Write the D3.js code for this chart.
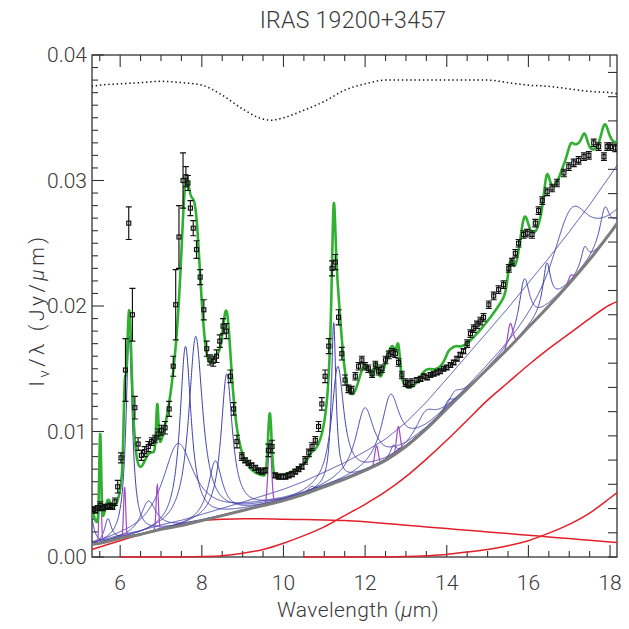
<!DOCTYPE html>
<html>
<head>
<meta charset="utf-8">
<script src="https://cdn.jsdelivr.net/npm/d3@7"></script>
<style>
  body { margin: 0; background: #fff; }
  text { font-family: Roboto, "Liberation Sans Narrow", sans-serif; font-weight: 300; fill: #3a3a3a; }
</style>
</head>
<body>
<svg id="chart" width="629" height="629"></svg>
<script>
// observed spectrum (wavelength in micron, flux in Jy/micron, 1-sigma error)
const obsLam = [5.33, 5.39, 5.45, 5.51, 5.57, 5.63, 5.69, 5.75, 5.81, 5.87, 5.94, 6.02, 6.13, 6.21, 6.30, 6.36, 6.44, 6.52, 6.60, 6.69,
  6.77, 6.85, 6.93, 7.01, 7.10, 7.20, 7.30, 7.36, 7.44, 7.54, 7.61, 7.66, 7.72, 7.79, 7.87, 7.96, 8.05, 8.12, 8.20, 8.28,
  8.36, 8.44, 8.52, 8.60, 8.70, 8.78, 8.86, 8.98, 9.06, 9.14, 9.22, 9.31, 9.39, 9.47, 9.55, 9.63, 9.72, 9.80, 9.88, 9.96,
  10.05, 10.13, 10.21, 10.29, 10.37, 10.45, 10.53, 10.62, 10.70, 10.78, 10.86, 10.94, 11.02, 11.11, 11.19, 11.27, 11.35, 11.43, 11.51, 11.59,
  11.67, 11.76, 11.84, 11.92, 12.00, 12.08, 12.17, 12.25, 12.33, 12.41, 12.50, 12.58, 12.66, 12.74, 12.82, 12.90, 12.99, 13.07, 13.15, 13.27,
  13.36, 13.44, 13.52, 13.60, 13.68, 13.76, 13.84, 13.92, 14.00, 14.09, 14.17, 14.25, 14.33, 14.41, 14.50, 14.58, 14.66, 14.74, 14.82, 14.90,
  15.03, 15.15, 15.27, 15.39, 15.52, 15.60, 15.68, 15.76, 15.88, 15.97, 16.09, 16.17, 16.25, 16.34, 16.46, 16.58, 16.70, 16.87, 16.99, 17.11,
  17.23, 17.36, 17.48, 17.60, 17.72, 17.85, 17.93, 18.01, 18.13];
const obsFlux = [0.0038, 0.0037, 0.0039, 0.0041, 0.0039, 0.0040, 0.0040, 0.0041, 0.0040, 0.0044, 0.0056, 0.0079, 0.0149, 0.0266, 0.0193, 0.0119, 0.0090, 0.0081, 0.0084, 0.0088,
  0.0092, 0.0094, 0.0098, 0.0101, 0.0103, 0.0118, 0.0152, 0.0201, 0.0255, 0.0300, 0.0303, 0.0298, 0.0278, 0.0262, 0.0245, 0.0223, 0.0197, 0.0166, 0.0157, 0.0156,
  0.0160, 0.0172, 0.0184, 0.0180, 0.0144, 0.0118, 0.0092, 0.0080, 0.0077, 0.0075, 0.0073, 0.0071, 0.0069, 0.0068, 0.0069, 0.0085, 0.0088, 0.0065, 0.0064, 0.0064,
  0.0064, 0.0065, 0.0066, 0.0068, 0.0070, 0.0072, 0.0077, 0.0083, 0.0088, 0.0093, 0.0104, 0.0122, 0.0144, 0.0168, 0.0230, 0.0235, 0.0191, 0.0162, 0.0141, 0.0134,
  0.0133, 0.0144, 0.0152, 0.0157, 0.0152, 0.0150, 0.0146, 0.0153, 0.0148, 0.0150, 0.0157, 0.0161, 0.0163, 0.0162, 0.0155, 0.0145, 0.0139, 0.0138, 0.0139, 0.0141,
  0.0142, 0.0144, 0.0143, 0.0145, 0.0146, 0.0147, 0.0148, 0.0150, 0.0151, 0.0153, 0.0155, 0.0158, 0.0161, 0.0164, 0.0170, 0.0178, 0.0182, 0.0185, 0.0188, 0.0191,
  0.0201, 0.0208, 0.0213, 0.0217, 0.0230, 0.0235, 0.0242, 0.0250, 0.0257, 0.0258, 0.0257, 0.0266, 0.0276, 0.0284, 0.0291, 0.0294, 0.0298, 0.0306, 0.0311, 0.0314,
  0.0316, 0.0319, 0.0320, 0.0330, 0.0327, 0.0319, 0.0327, 0.0327, 0.0326];
const obsErr = [0.0002, 0.0002, 0.0002, 0.0003, 0.0002, 0.0002, 0.0002, 0.0002, 0.0002, 0.0003, 0.0005, 0.0004, 0.0025, 0.0013, 0.0021, 0.0009, 0.0005, 0.0004, 0.0004, 0.0004,
  0.0003, 0.0003, 0.0004, 0.0004, 0.0005, 0.0006, 0.0008, 0.0028, 0.0025, 0.0022, 0.0008, 0.0006, 0.0006, 0.0006, 0.0007, 0.0006, 0.0008, 0.0006, 0.0004, 0.0004,
  0.0005, 0.0005, 0.0006, 0.0006, 0.0005, 0.0005, 0.0005, 0.0003, 0.0002, 0.0002, 0.0002, 0.0002, 0.0002, 0.0002, 0.0002, 0.0005, 0.0005, 0.0002, 0.0002, 0.0002,
  0.0002, 0.0002, 0.0002, 0.0002, 0.0002, 0.0002, 0.0003, 0.0003, 0.0003, 0.0003, 0.0004, 0.0005, 0.0005, 0.0006, 0.0006, 0.0006, 0.0006, 0.0005, 0.0004, 0.0003,
  0.0003, 0.0003, 0.0003, 0.0003, 0.0003, 0.0003, 0.0003, 0.0003, 0.0003, 0.0003, 0.0003, 0.0003, 0.0003, 0.0003, 0.0003, 0.0003, 0.0003, 0.0003, 0.0003, 0.0002,
  0.0002, 0.0002, 0.0002, 0.0002, 0.0002, 0.0002, 0.0002, 0.0002, 0.0002, 0.0002, 0.0002, 0.0002, 0.0002, 0.0002, 0.0003, 0.0003, 0.0003, 0.0003, 0.0003, 0.0003,
  0.0003, 0.0003, 0.0003, 0.0003, 0.0003, 0.0003, 0.0003, 0.0003, 0.0003, 0.0003, 0.0003, 0.0003, 0.0003, 0.0003, 0.0003, 0.0003, 0.0003, 0.0003, 0.0003, 0.0003,
  0.0003, 0.0003, 0.0003, 0.0003, 0.0003, 0.0003, 0.0003, 0.0003, 0.0003];

// fitted components, sampled on one wavelength list
const compLam  = [5.3, 5.5, 6.0, 6.5, 7.0, 7.5, 8.0, 8.5, 9.0, 9.5, 10.0, 10.5, 11.0, 11.5, 12.0, 12.5, 13.0, 13.5, 14.0, 14.5, 15.0, 15.5, 16.0, 16.5, 17.0, 17.5, 18.0, 18.2];
const contTotal = [0.0010, 0.0011, 0.0015, 0.0018, 0.0022, 0.0025, 0.0029, 0.0033, 0.0037, 0.0041, 0.0045, 0.0050, 0.0056, 0.0062, 0.0069, 0.0077, 0.0088, 0.0102, 0.0118, 0.0134, 0.0150, 0.0166, 0.0183, 0.0200, 0.0218, 0.0237, 0.0258, 0.0267];
const dustWarm  = [0.0006, 0.0008, 0.0013, 0.0018, 0.0022, 0.0026, 0.0029, 0.0030, 0.00305, 0.00305, 0.0030, 0.00298, 0.00295, 0.0029, 0.0028, 0.00267, 0.00253, 0.0024, 0.00227, 0.00213, 0.0020, 0.00187, 0.00173, 0.0016, 0.00147, 0.00133, 0.0012, 0.00115];
const dustCool  = [null, null, 0, 0, 0, 0, 0.00003, 0.0001, 0.0003, 0.0006, 0.0011, 0.0017, 0.0024, 0.0033, 0.0042, 0.0052, 0.0064, 0.0078, 0.0093, 0.0109, 0.0125, 0.0139, 0.0153, 0.0166, 0.0178, 0.0190, 0.0201, 0.0204];
const dustCold  = [null, null, null, null, null, null, null, null, null, null, null, 0, 0, 0, 0, 0.00001, 0.00004, 0.0001, 0.0002, 0.0004, 0.0006, 0.0009, 0.0013, 0.0019, 0.0026, 0.0035, 0.0047, 0.0052];

// PAH features (Drude): centre, fractional FWHM, peak above continuum
const pahCenter = [5.27, 5.70, 6.22, 6.69, 7.42, 7.60, 7.85, 8.33, 8.61, 10.68, 11.23, 11.33, 11.99, 12.62, 12.69, 13.48, 14.04, 14.19, 15.90, 16.45, 17.04, 17.375, 17.87, 20.0];
const pahFwhm   = [0.034, 0.035, 0.030, 0.07, 0.126, 0.044, 0.053, 0.05, 0.039, 0.02, 0.012, 0.032, 0.045, 0.042, 0.013, 0.04, 0.016, 0.025, 0.02, 0.014, 0.065, 0.012, 0.016, 0.7];
const pahPeak   = [0.0025, 0.0018, 0.0160, 0.0025, 0.0066, 0.0142, 0.0148, 0.0045, 0.0112, 0.0004, 0.0128, 0.0092, 0.0050, 0.0050, 0.0008, 0.0015, 0.0006, 0.0008, 0.0042, 0.0036, 0.0058, 0.0015, 0.0026, 0.0050];

// gas lines (Gaussian): centre, FWHM (micron), peak
const lineCenter = [5.511, 6.109, 6.909, 9.665, 12.279, 12.814, 15.555, 17.035];
const lineFwhm   = [0.055, 0.06, 0.065, 0.10, 0.10, 0.10, 0.14, 0.14];
const linePeak   = [0.0070, 0.0040, 0.0036, 0.0050, 0.0015, 0.0020, 0.0018, 0.0005];

// extinction curve drawn dotted at the top
const extLam = [5.3, 5.5, 6.0, 6.5, 7.0, 7.5, 8.0, 8.5, 9.0, 9.4, 9.7, 10.0, 10.5, 11.0, 11.5, 12.0, 12.5, 13.0, 14.0, 15.0, 15.5, 16.0, 16.5, 17.0, 17.5, 18.0, 18.2];
const extVal = [0.0375, 0.0376, 0.0377, 0.0378, 0.0379, 0.0378, 0.0376, 0.0368, 0.0357, 0.0350, 0.0348, 0.0350, 0.0356, 0.0363, 0.0372, 0.0377, 0.0380, 0.0380, 0.0380, 0.0380, 0.0378, 0.0376, 0.0375, 0.0373, 0.0371, 0.0370, 0.0369];

const xTicks = [6, 8, 10, 12, 14, 16, 18];
const yTicks = [0, 0.01, 0.02, 0.03, 0.04];

const svg = d3.select("#chart");
const margin = { top: 55, right: 12, bottom: 72, left: 92 };
const W = 629, H = 629;
const x = d3.scaleLinear().domain([5.31, 18.17]).range([margin.left, W - margin.right]);
const y = d3.scaleLinear().domain([0, 0.04]).range([H - margin.bottom, margin.top]);
const yRight = d3.scaleLinear().domain([0, 1.036]).range([H - margin.bottom, margin.top]);

svg.append("defs").append("clipPath").attr("id", "plot")
  .append("rect").attr("x", x.range()[0]).attr("y", margin.top - 1)
  .attr("width", x.range()[1] - x.range()[0]).attr("height", y.range()[0] - margin.top + 2);

// frame and ticks first, the curves go on top (as the original plot does)
const axisCol = "#333";
const [xl, xr] = x.range(), [yb, yt] = y.range();
svg.append("rect").attr("x", xl).attr("y", yt).attr("width", xr - xl).attr("height", yb - yt)
  .attr("fill", "none").attr("stroke", axisCol).attr("stroke-width", 1.3);

const tk = svg.append("g").attr("stroke", axisCol).attr("stroke-width", 1.1);
d3.range(5.5, 18.01, 0.5).forEach(v => {
  const len = Math.abs(v % 2) < 1e-6 ? 12 : 6;
  tk.append("line").attr("x1", x(v)).attr("x2", x(v)).attr("y1", yb).attr("y2", yb - len);
  tk.append("line").attr("x1", x(v)).attr("x2", x(v)).attr("y1", yt).attr("y2", yt + len);
});
d3.range(0, 41).forEach(k => {
  const v = k / 1000, len = k % 10 === 0 ? 12 : 6;
  tk.append("line").attr("x1", xl).attr("x2", xl + len).attr("y1", y(v)).attr("y2", y(v));
});
d3.range(0, 21).forEach(k => {
  const v = k * 0.05;
  tk.append("line").attr("x1", xr).attr("x2", xr - 9).attr("y1", yRight(v)).attr("y2", yRight(v));
});

const cont = d3.scaleLinear().domain(compLam).range(contTotal);
const drude = (l, c, f, h) => h * f * f / ((l / c - c / l) ** 2 + f * f);
const gauss = (l, c, w, h) => h * Math.exp(-0.5 * ((l - c) / (w / 2.3548)) ** 2);

const grid = d3.range(5.31, 18.175, 0.005);
const line = d3.line().x(d => x(d[0])).y(d => y(d[1]));
const smooth = d3.line().defined(d => d[1] != null).x(d => x(d[0])).y(d => y(d[1])).curve(d3.curveMonotoneX);

const g = svg.append("g").attr("clip-path", "url(#plot)");

// dust components
[dustWarm, dustCool, dustCold].forEach(arr => {
  g.append("path").datum(compLam.map((l, i) => [l, arr[i]]))
    .attr("d", smooth).attr("fill", "none").attr("stroke", "#e3202a").attr("stroke-width", 1.5);
});

// PAH profiles
pahCenter.forEach((c, i) => {
  g.append("path").datum(grid.map(l => [l, cont(l) + drude(l, c, pahFwhm[i], pahPeak[i])]))
    .attr("d", line).attr("fill", "none").attr("stroke", "#3c3cab").attr("stroke-width", 1);
});

// gas lines
lineCenter.forEach((c, i) => {
  const pts = grid.filter(l => Math.abs(l - c) < 3 * lineFwhm[i]);
  g.append("path").datum(pts.map(l => [l, cont(l) + gauss(l, c, lineFwhm[i], linePeak[i])]))
    .attr("d", line).attr("fill", "none").attr("stroke", "#a04ac8").attr("stroke-width", 1.2);
});

// total continuum
g.append("path").datum(compLam.map((l, i) => [l, contTotal[i]]))
  .attr("d", smooth).attr("fill", "none").attr("stroke", "#7d7d7d").attr("stroke-width", 3);

// total model
const total = grid.map(l => {
  let v = cont(l);
  pahCenter.forEach((c, i) => { v += drude(l, c, pahFwhm[i], pahPeak[i]); });
  lineCenter.forEach((c, i) => { v += gauss(l, c, lineFwhm[i], linePeak[i]); });
  return [l, v];
});
g.append("path").datum(total).attr("d", line)
  .attr("fill", "none").attr("stroke", "#2fb030").attr("stroke-width", 2.6).attr("stroke-linejoin", "round");

// data with error bars
const pts = g.append("g").attr("stroke", "#111").attr("fill", "none").attr("stroke-width", 1.15);
obsLam.forEach((l, i) => {
  const px = x(l), y0 = y(obsFlux[i] - obsErr[i]), y1 = y(obsFlux[i] + obsErr[i]);
  pts.append("path").attr("d", `M${px},${y0}V${y1}M${px - 3},${y0}h6M${px - 3},${y1}h6`);
  pts.append("rect").attr("x", px - 2).attr("y", y(obsFlux[i]) - 2).attr("width", 4).attr("height", 4);
});

// extinction
g.append("path").datum(extLam.map((l, i) => [l, extVal[i]]))
  .attr("d", smooth).attr("fill", "none").attr("stroke", "#111")
  .attr("stroke-width", 1.5).attr("stroke-dasharray", "1.4,2.8");

// labels
svg.selectAll(".xl").data(xTicks).join("text")
  .attr("x", d => x(d)).attr("y", yb + 33).attr("text-anchor", "middle")
  .attr("font-size", 21).text(d => d);
svg.selectAll(".yl").data(yTicks).join("text")
  .attr("x", xl - 5).attr("y", d => y(d) + 7).attr("text-anchor", "end")
  .attr("font-size", 21).text(d => d3.format(".2f")(d));

svg.append("text").attr("x", 353).attr("y", 28).attr("text-anchor", "middle")
  .attr("font-size", 23).attr("letter-spacing", 0.3).text("IRAS 19200+3457");

const xt = svg.append("text").attr("x", 358).attr("y", 617).attr("text-anchor", "middle")
  .attr("font-size", 21).attr("letter-spacing", 0.4);
xt.append("tspan").text("Wavelength (");
xt.append("tspan").attr("font-style", "italic").text("\u03bc");
xt.append("tspan").text("m)");

const yt2 = svg.append("text").attr("transform", "translate(44,310) rotate(-90)")
  .attr("text-anchor", "middle").attr("font-size", 21).attr("letter-spacing", 3.5);
yt2.append("tspan").text("I");
yt2.append("tspan").attr("font-size", 15).attr("dy", 5).text("\u03bd");
yt2.append("tspan").attr("dy", -5).text("/\u03bb  (Jy/");
yt2.append("tspan").attr("font-style", "italic").text("\u03bc");
yt2.append("tspan").text("m)");
</script>
</body>
</html>
